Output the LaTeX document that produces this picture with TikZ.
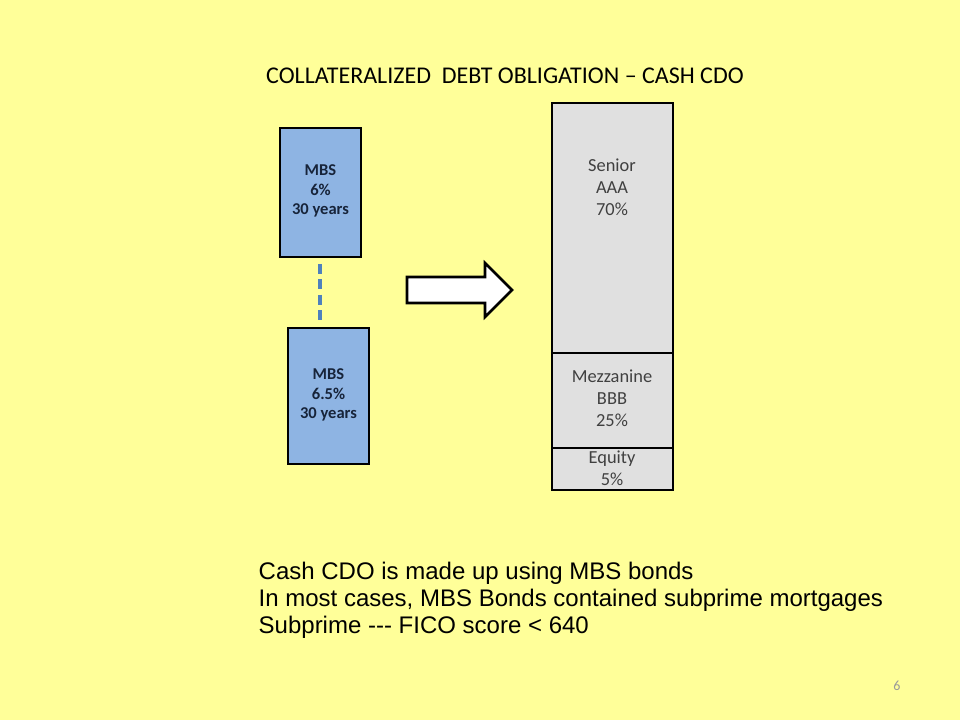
\documentclass[tikz,border=0pt]{standalone}
\usepackage{fontspec}
\setmainfont{Carlito}
\newfontfamily\arialfont{Liberation Sans}
\definecolor{slideyellow}{RGB}{255,255,153}
\definecolor{mbsblue}{RGB}{142,180,227}
\definecolor{dashblue}{RGB}{79,129,189}
\definecolor{tranchegray}{RGB}{224,224,224}
\definecolor{tranchetext}{RGB}{64,64,64}
\definecolor{mbstext}{RGB}{23,36,58}
\tikzset{
  mbsbox/.style={draw=black, line width=1.9pt, fill=mbsblue},
  tranche/.style={draw=black, line width=1.9pt, fill=tranchegray},
  mbslabel/.style={align=center, font=\fontsize{12.4}{14.6}\selectfont\bfseries, text=mbstext},
  tranchelabel/.style={align=center, font=\fontsize{13.8}{16.5}\selectfont, text=tranchetext}
}
\begin{document}
\begin{tikzpicture}[x=0.75pt, y=-0.75pt]
	\fill[slideyellow] (0, 0) rectangle (960, 720);
	\useasboundingbox (0, 0) rectangle (960, 720);

	\node (title) at (505, 76) {\fontsize{18}{21}\selectfont COLLATERALIZED\ \ DEBT OBLIGATION -- CASH CDO};

	%%the two MBS bonds
	\draw[mbsbox] (280, 128) rectangle (361, 257);
	\node[mbslabel] (mbsa) at (320.5, 191) {MBS\\6\%\\30 years};
	\draw[mbsbox] (288, 328) rectangle (369, 464);
	\node[mbslabel] (mbsb) at (328.5, 395) {MBS\\6.5\%\\30 years};
	\coordinate (dashtop) at (320, 264);
	\coordinate (dashbot) at (320, 320);
	\draw[dashblue, line width=3pt, dash pattern=on 7.5pt off 4pt] (dashtop) -- (dashbot);

	%%the big arrow
	\draw[fill=white, line width=1.9pt, line join=miter]
		(407, 277) -- (485, 277) -- (485, 263) -- (512, 290) -- (485, 317) -- (485, 303) -- (407, 303) -- cycle;

	%%the tranches of the CDO
	\draw[tranche] (552, 103) rectangle (673, 353);
	\node[tranchelabel] (senior) at (612, 187) {Senior\\AAA\\70\%};
	\draw[tranche] (552, 353) rectangle (673, 448);
	\node[tranchelabel] (mezz) at (612, 398) {Mezzanine\\BBB\\25\%};
	\draw[tranche] (552, 448) rectangle (673, 490);
	\node[tranchelabel] (equity) at (612, 468) {Equity\\5\%};

	%%notes at the bottom
	\node[anchor=west, align=left, font=\arialfont\fontsize{18}{20.25}\selectfont] (notes) at (254, 600)
		{Cash CDO is made up using MBS bonds\\In most cases, MBS Bonds contained subprime mortgages\\Subprime -{}-{}- FICO score < 640};

	\node[text=gray!80, font=\fontsize{10.5}{12}\selectfont] (pagenum) at (897, 686) {6};
\end{tikzpicture}
\end{document}
